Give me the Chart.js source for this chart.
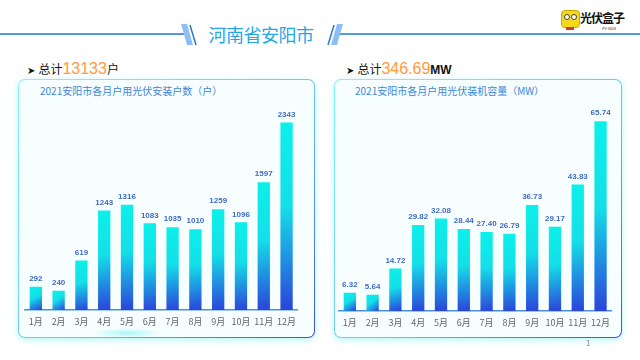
<!DOCTYPE html>
<html>
<head>
<meta charset="utf-8">
<script src="https://cdn.jsdelivr.net/npm/chart.js@4.4.1/dist/chart.umd.min.js"></script>
<style>
html,body{margin:0;padding:0;background:#fff;}
body{width:640px;height:360px;position:relative;overflow:hidden;font-family:"Noto Sans CJK SC","Noto Sans",sans-serif;}
.abs{position:absolute;}
.box{position:absolute;box-sizing:border-box;border:1.5px solid transparent;border-radius:7px;
 background:linear-gradient(#f6feff,#f6feff) padding-box,linear-gradient(135deg,#86f2f6 0%,#6fc8f0 55%,#3a52dc 100%) border-box;
 box-shadow:0 2px 6px rgba(90,230,240,0.45);}
.btitle{position:absolute;font-size:10px;color:#3f86d8;white-space:nowrap;line-height:12px;}
.total{position:absolute;white-space:nowrap;font-size:12px;color:#111;line-height:20px;}
.total .num{font-size:16px;color:#ff9a3d;font-family:"Liberation Sans",Arial,sans-serif;}
.total .arr{font-size:10px;color:#111;margin-right:3px;font-family:"DejaVu Sans";}
</style>
</head>
<body>
<svg class="abs" style="left:0;top:0" width="640" height="60">
  <line x1="0" y1="34" x2="184" y2="34" stroke="#1b78c8" stroke-width="1.5"/>
  <line x1="338" y1="34" x2="640" y2="34" stroke="#1b78c8" stroke-width="1.5"/>
  <polygon points="181,24 187,24 193,45 187,45" fill="#8fbdf5"/>
  <line x1="190" y1="25" x2="196" y2="45" stroke="#2a78cc" stroke-width="1.5"/>
  <line x1="334" y1="25" x2="328" y2="45" stroke="#2a78cc" stroke-width="1.5"/>
  <polygon points="337,24 343,24 337,45 331,45" fill="#8fbdf5"/>
</svg>
<div class="abs" style="left:208px;top:22px;width:106px;text-align:center;font-size:18px;line-height:24px;color:#22a6e8;white-space:nowrap;letter-spacing:-0.5px;">河南省安阳市</div>

<!-- logo -->
<div class="abs" style="left:561px;top:10px;width:17px;height:16px;background:#f4d81c;border-radius:4px;border:1px solid #c9a800;"></div>
<div class="abs" style="left:564px;top:14px;width:4px;height:4px;background:#fff;border-radius:50%;border:1px solid #444;"></div>
<div class="abs" style="left:571px;top:14px;width:4px;height:4px;background:#fff;border-radius:50%;border:1px solid #444;"></div>
<div class="abs" style="left:566px;top:27px;width:8px;height:3px;background:#d83a2a;"></div>
<div class="abs" style="left:580px;top:10px;font-size:12px;font-weight:bold;color:#111;line-height:16px;white-space:nowrap;letter-spacing:-1px;">光伏盒子</div>
<div class="abs" style="left:602px;top:26px;font-size:4px;color:#333;line-height:5px;">PV-BOX</div>

<div class="total" style="left:27px;top:59px;"><span class="arr">➤</span>总计<span class="num">13133</span>户</div>
<div class="total" style="left:346px;top:59px;"><span class="arr">➤</span>总计<span class="num">346.69</span><b style="font-family:'Liberation Sans';">MW</b></div>

<div class="box" style="left:18px;top:79px;width:297px;height:259px;"></div>
<div class="box" style="left:334px;top:79px;width:288px;height:259px;"></div>
<div class="abs" style="left:92px;top:328px;width:70px;height:10px;background:radial-gradient(ellipse at center,rgba(120,240,245,0.6) 0%,rgba(160,245,250,0) 70%);"></div>
<div class="btitle" style="left:40px;top:85px;">2021安阳市各月户用光伏安装户数（户）</div>
<div class="btitle" style="left:355px;top:85px;">2021安阳市各月户用光伏装机容量（MW）</div>
<div class="abs" style="left:586px;top:337px;font-size:8px;color:#888;">1</div>

<div class="abs" style="left:23px;top:100px;"><canvas id="c1" width="279" height="232"></canvas></div>
<div class="abs" style="left:337px;top:99px;"><canvas id="c2" width="279" height="234"></canvas></div>

<script>
const months = ["1月","2月","3月","4月","5月","6月","7月","8月","9月","10月","11月","12月"];
const households = [292,240,619,1243,1316,1083,1035,1010,1259,1096,1597,2343];
const capacityMW = [6.32,5.64,14.72,29.82,32.08,28.44,27.40,26.79,36.73,29.17,43.83,65.74];

function barGradient(ctx){
  const chart = ctx.chart;
  if(!chart.chartArea || ctx.type !== 'data') return '#18d8e8';
  const el = chart.getDatasetMeta(ctx.datasetIndex).data[ctx.dataIndex];
  const xs = chart.scales.x, ys = chart.scales.y;
  const x = xs.getPixelForValue(ctx.dataIndex);
  const top = ys.getPixelForValue(ctx.parsed ? ctx.parsed.y : ctx.raw);
  const base = ys.getPixelForValue(0);
  const w = 12;
  const g = chart.ctx.createLinearGradient(x - w/2, top, x + w/2, base);
  g.addColorStop(0, '#0cf0ea');
  g.addColorStop(0.45, '#14dfe8');
  g.addColorStop(1, '#2b43db');
  return g;
}

const labelPlugin = {
  id: 'vlabels',
  afterDatasetsDraw(chart, args, opts){
    const c = chart.ctx;
    const meta = chart.getDatasetMeta(0);
    const vals = chart.data.datasets[0].data;
    c.save();
    c.font = 'bold 8px "Liberation Sans", Arial, sans-serif';
    c.textAlign = 'center';
    c.textBaseline = 'middle';
    c.lineJoin = 'round';
    meta.data.forEach((bar, i) => {
      const t = opts.decimals ? vals[i].toFixed(opts.decimals) : String(vals[i]);
      c.strokeStyle = 'rgba(255,255,255,0.9)';
      c.lineWidth = 2;
      c.strokeText(t, bar.x, bar.y - 8);
      c.fillStyle = '#3a6cc8';
      c.fillText(t, bar.x, bar.y - 8);
    });
    c.restore();
  }
};

function makeChart(id, values, ymax, decimals){
  return new Chart(document.getElementById(id), {
    type: 'bar',
    data: { labels: months, datasets: [{ data: values, backgroundColor: barGradient, borderWidth: 0,
      categoryPercentage: 1, barPercentage: 0.54 }] },
    options: {
      responsive: false, animation: false, devicePixelRatio: 1,
      layout: { padding: { top: 10, left: 0, right: 0, bottom: 0 } },
      plugins: { legend: { display: false }, tooltip: { enabled: false }, vlabels: { decimals } },
      scales: {
        x: {
          grid: { display: false, drawTicks: false },
          border: { display: true, color: '#4a8fda', width: 1.5 },
          ticks: { color: '#666', padding: 6, font: { size: 9, family: '"Noto Sans CJK SC", sans-serif' }, maxRotation: 0, autoSkip: false },
          afterFit(s){ s.height = 22; }
        },
        y: { display: false, min: 0, max: ymax }
      }
    },
    plugins: [labelPlugin]
  });
}
makeChart('c1', households, 2500, 0);
makeChart('c2', capacityMW, 70, 2);
</script>
</body>
</html>
